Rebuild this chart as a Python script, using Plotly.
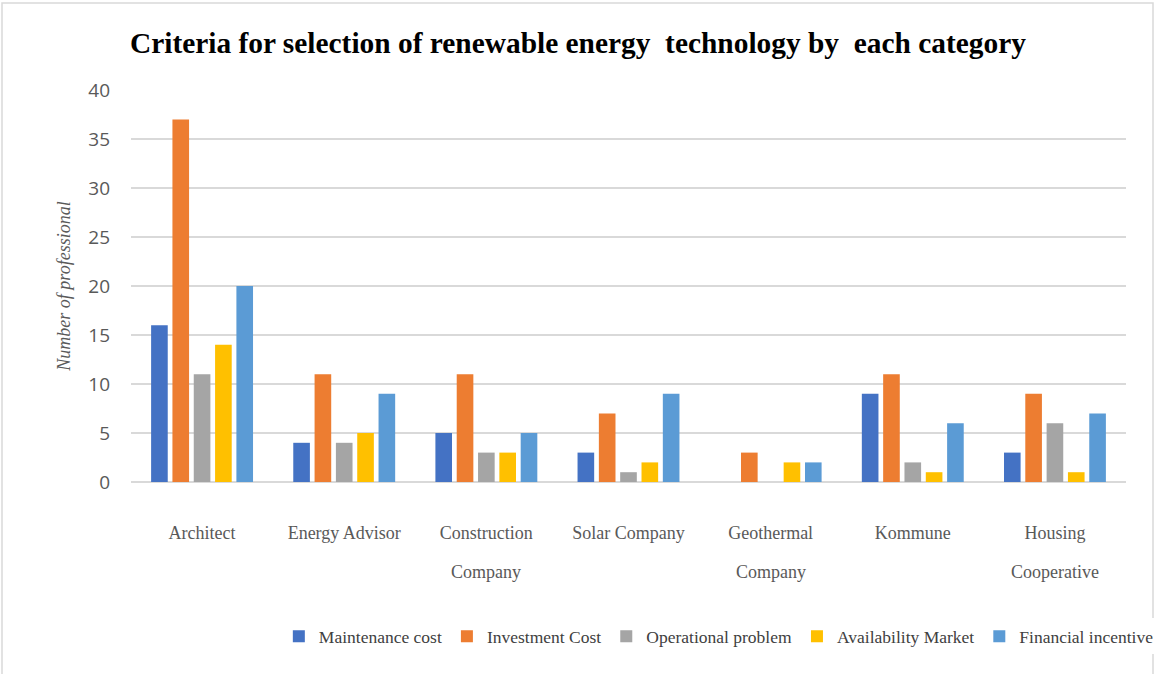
import plotly.graph_objects as go

categories = ["Architect", "Energy Advisor", "Construction Company", "Solar Company",
              "Geothermal Company", "Kommune", "Housing Cooperative"]
# labels that wrap onto a second line in the original chart
wrapped = {"Construction Company": ("Construction", "Company"),
           "Geothermal Company": ("Geothermal", "Company"),
           "Housing Cooperative": ("Housing", "Cooperative")}

maintenance_cost = [16, 4, 5, 3, 0, 9, 3]
investment_cost = [37, 11, 11, 7, 3, 11, 9]
operational_problem = [11, 4, 3, 1, 0, 2, 6]
availability_market = [14, 5, 3, 2, 2, 1, 1]
financial_incentive = [20, 9, 5, 9, 2, 6, 7]

series = [
    ("Maintenance cost", maintenance_cost, "#4472C4"),
    ("Investment Cost", investment_cost, "#ED7D31"),
    ("Operational problem", operational_problem, "#A5A5A5"),
    ("Availability Market", availability_market, "#FFC000"),
    ("Financial incentive", financial_incentive, "#5B9BD5"),
]

fig = go.Figure()
for name, vals, color in series:
    fig.add_trace(go.Bar(
        x=categories, y=vals, name=name,
        marker=dict(color=color, line=dict(width=0)),
    ))

tick_text = [wrapped[c][0] if c in wrapped else c for c in categories]
label_font = dict(family="Liberation Serif", size=18, color="#595959")
second_lines = [
    dict(x=c, y=0, xref="x", yref="y", text=wrapped[c][1], showarrow=False,
         yanchor="middle", yshift=-90, font=label_font)
    for c in categories if c in wrapped
]

fig.update_layout(
    width=1155, height=674,
    paper_bgcolor="white", plot_bgcolor="white",
    margin=dict(l=131, r=29, t=90, b=192, autoexpand=False),
    barmode="group", bargap=0.25, bargroupgap=0.22,
    title=dict(
        text="<b>Criteria for selection of renewable energy  technology by  each category</b>",
        font=dict(family="Liberation Serif", size=29.4, color="black"),
        x=130 / 1155, xanchor="left", y=0.936, yanchor="middle",
    ),
    legend=dict(
        orientation="h", x=1.033, xanchor="right", y=-0.394, yanchor="middle",
        font=dict(family="Liberation Serif", size=17.5, color="#404040"),
        traceorder="normal",
    ),
    annotations=second_lines,
    shapes=[dict(
        type="rect", xref="paper", yref="paper",
        x0=(2 - 131) / 995, x1=(1153 - 131) / 995,
        y0=-(674 - 482 + 10) / 392, y1=1 + 87 / 392,
        line=dict(color="#D9D9D9", width=1.5),
    )],
)

fig.update_yaxes(
    automargin=False,
    range=[0, 40], dtick=5, showgrid=True, gridcolor="#D9D9D9", gridwidth=1.5,
    zeroline=True, zerolinecolor="#D9D9D9", zerolinewidth=1.5,
    tickfont=dict(family="Open Sans", size=19, color="#595959"),
    ticklabelstandoff=20,
    title=dict(text="Number of professional",
               font=dict(family="Liberation Serif", size=18, color="#595959", style="italic"),
               standoff=12),
)
fig.update_xaxes(
    automargin=False,
    showline=False,
    tickmode="array", tickvals=categories, ticktext=tick_text,
    tickfont=label_font,
    ticklabelstandoff=38,
)

# drop the browser's default body margin so the figure sits at the page corner
fig.write_html("out.html", config={"displayModeBar": False},
               post_script="document.body.style.margin='0';")
